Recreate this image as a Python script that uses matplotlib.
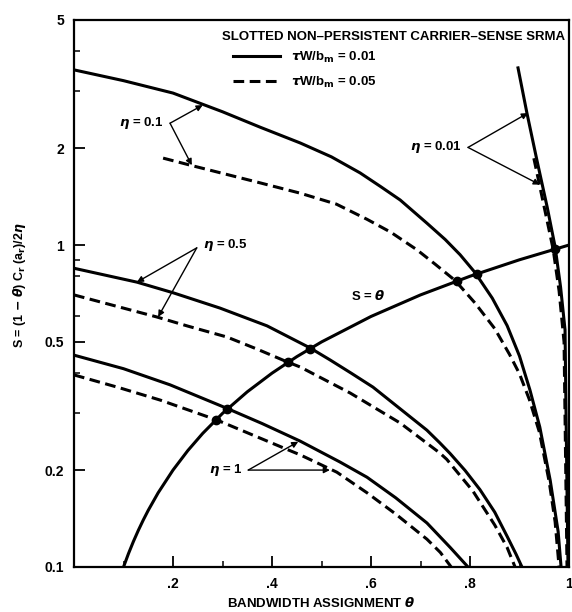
import numpy as np
import matplotlib
matplotlib.use('Agg')
from matplotlib import pyplot as plt

plt.rcParams['font.family'] = ['Liberation Sans', 'DejaVu Sans']
plt.rcParams['font.weight'] = 'bold'
plt.rcParams['mathtext.fontset'] = 'dejavusans'

# eta = 0.1
x_01_s = [0.0, 0.1, 0.2, 0.3, 0.376, 0.457, 0.52, 0.578, 0.62, 0.659, 0.713, 0.75, 0.78, 0.81, 0.845,
          0.875, 0.90, 0.921, 0.941, 0.962, 0.978, 0.984]
y_01_s = [3.50, 3.24, 2.965, 2.594, 2.323, 2.075, 1.879, 1.675, 1.517, 1.380, 1.169, 1.040, 0.933, 0.822, 0.684,
          0.562, 0.452, 0.355, 0.272, 0.186, 0.129, 0.10]
x_01_d = [0.18, 0.24, 0.376, 0.457, 0.53, 0.592, 0.64, 0.693, 0.73, 0.77, 0.81, 0.85, 0.88, 0.90, 0.92,
          0.94, 0.96, 0.972, 0.98]
y_01_d = [1.862, 1.762, 1.560, 1.449, 1.340, 1.202, 1.096, 0.966, 0.871, 0.776, 0.661, 0.550, 0.457, 0.398, 0.331,
          0.263, 0.184, 0.138, 0.10]
# eta = 0.5
x_05_s = [0.0, 0.127, 0.2, 0.295, 0.39, 0.477, 0.517, 0.56, 0.604, 0.713, 0.739, 0.76, 0.79, 0.82, 0.85,
          0.875, 0.893, 0.905]
y_05_s = [0.847, 0.767, 0.711, 0.637, 0.561, 0.479, 0.440, 0.40, 0.362, 0.266, 0.243, 0.225, 0.1995, 0.174, 0.148,
          0.1245, 0.1096, 0.10]
x_05_d = [0.0, 0.08, 0.167, 0.23, 0.309, 0.37, 0.43, 0.457, 0.558, 0.659, 0.739, 0.753, 0.806, 0.85, 0.875, 0.891]
y_05_d = [0.70, 0.649, 0.598, 0.56, 0.518, 0.475, 0.434, 0.418, 0.347, 0.280, 0.226, 0.216, 0.172, 0.135, 0.115, 0.10]
# eta = 1
x_1_s = [0.0, 0.1, 0.194, 0.309, 0.38, 0.457, 0.537, 0.592, 0.65, 0.713, 0.76, 0.796]
y_1_s = [0.455, 0.413, 0.368, 0.311, 0.279, 0.246, 0.212, 0.19, 0.164, 0.137, 0.115, 0.10]
x_1_d = [0.0, 0.09, 0.174, 0.289, 0.43, 0.457, 0.531, 0.592, 0.65, 0.713, 0.74, 0.762]
y_1_d = [0.395, 0.361, 0.330, 0.286, 0.232, 0.223, 0.197, 0.170, 0.146, 0.122, 0.111, 0.10]
# eta = 0.01
x_001_s = [0.897, 0.915, 0.935, 0.956, 0.972, 0.983, 0.992, 0.994, 0.998]
y_001_s = [3.55, 2.57, 1.84, 1.31, 0.986, 0.74, 0.545, 0.30, 0.10]
x_001_d = [0.929, 0.95, 0.968, 0.98, 0.99, 0.996]
y_001_d = [1.86, 1.31, 0.97, 0.72, 0.5, 0.1]
# S = theta
x_st = [0.1, 0.11, 0.12, 0.13, 0.14, 0.15, 0.17, 0.2, 0.23, 0.26, 0.3, 0.35, 0.4, 0.45, 0.5, 0.6, 0.7, 0.8, 0.9, 1.0]
y_st = [0.1, 0.11, 0.12, 0.13, 0.14, 0.15, 0.17, 0.2, 0.23, 0.26, 0.3, 0.35, 0.4, 0.45, 0.5, 0.6, 0.7, 0.8, 0.9, 1.0]
# operating points on S = theta
cross = [0.287, 0.31, 0.432, 0.477, 0.773, 0.815, 0.972]

fig = plt.figure(figsize=(5.72, 6.12), dpi=100)
ax = fig.add_axes([74/572, 45/612, 495/572, 547/612])

lw = 2.2
dash = (3.5, 1.8)
ax.plot(x_001_s, y_001_s, 'k-', lw=lw, label=r'$\tau$W/b$_\mathrm{m}$ = 0.01')
ax.plot(x_001_d, y_001_d, 'k--', lw=lw, dashes=dash, label=r'$\tau$W/b$_\mathrm{m}$ = 0.05')
for xs, ys in [(x_01_s, y_01_s), (x_05_s, y_05_s), (x_1_s, y_1_s)]:
    ax.plot(xs, ys, 'k-', lw=lw)
for xs, ys in [(x_01_d, y_01_d), (x_05_d, y_05_d), (x_1_d, y_1_d)]:
    ax.plot(xs, ys, 'k--', lw=lw, dashes=dash)
ax.plot(x_st, y_st, 'k-', lw=lw)
ax.plot(cross, cross, 'ko', ms=6)

ax.set_yscale('log')
ax.set(xlim=(0, 1), ylim=(0.1, 5))
ax.set_yticks([0.1, 0.2, 0.5, 1, 2, 5])
ax.set_yticklabels(['0.1', '0.2', '0.5', '1', '2', '5'])
ax.set_yticks([0.3, 0.4, 0.6, 0.8, 0.9, 3, 4], minor=True)
ax.set_yticklabels([], minor=True)
ax.set_xticks([0.2, 0.4, 0.6, 0.8, 1.0])
ax.set_xticklabels(['.2', '.4', '.6', '.8', '1'])
ax.set_xticks([0.1, 0.3, 0.5, 0.7, 0.9], minor=True)
ax.tick_params(which='major', direction='in', length=8, width=1.3, labelsize=10, pad=7)
ax.tick_params(which='minor', direction='in', length=4, width=1.1)
for sp in ax.spines.values():
    sp.set_linewidth(1.6)

ax.set_xlabel(r'BANDWIDTH ASSIGNMENT $\theta$', fontsize=9.5, fontweight='bold', labelpad=4)
ax.set_ylabel(r'S = (1 $-$ $\theta$) C$_\mathrm{r}$ (a$_\mathrm{r}$)/2$\eta$', fontsize=9,
              family=['Liberation Sans', 'DejaVu Sans'], fontweight='bold')
ax.yaxis.set_label_coords(-0.092, 0.515)

ax.text(0.992, 0.969, 'SLOTTED NON\u2013PERSISTENT CARRIER\u2013SENSE SRMA', transform=ax.transAxes,
        ha='right', va='center', fontsize=9.5, fontweight='bold')
ax.legend(loc='upper left', bbox_to_anchor=(0.31, 0.955), frameon=False, handlelength=3.6,
          prop={'weight': 'bold', 'size': 9.5}, labelspacing=0.75, borderaxespad=0)

arrow = dict(arrowstyle='-|>', color='k', lw=1.0, mutation_scale=9, shrinkA=0, shrinkB=0)
ax.text(0.18, 2.39, r'$\eta$ = 0.1', ha='right', va='center', fontsize=9.5)
for tx, ty in [(0.26, 2.72), (0.238, 1.77)]:
    ax.annotate('', xy=(tx, ty), xytext=(0.194, 2.39), arrowprops=arrow)
ax.text(0.26, 1.0, r'$\eta$ = 0.5', ha='left', va='center', fontsize=9.5)
for tx, ty in [(0.127, 0.767), (0.17, 0.598)]:
    ax.annotate('', xy=(tx, ty), xytext=(0.248, 0.98), arrowprops=arrow)
ax.text(0.34, 0.2, r'$\eta$ = 1', ha='right', va='center', fontsize=9.5)
for tx, ty in [(0.453, 0.245), (0.517, 0.2)]:
    ax.annotate('', xy=(tx, ty), xytext=(0.352, 0.2), arrowprops=arrow)
ax.text(0.784, 2.01, r'$\eta$ = 0.01', ha='right', va='center', fontsize=9.5)
for tx, ty in [(0.917, 2.57), (0.941, 1.54)]:
    ax.annotate('', xy=(tx, ty), xytext=(0.796, 2.01), arrowprops=arrow)
ax.text(0.594, 0.694, r'S = $\theta$', ha='center', va='center', fontsize=9.5)

fig.savefig('out.png', dpi=100)
